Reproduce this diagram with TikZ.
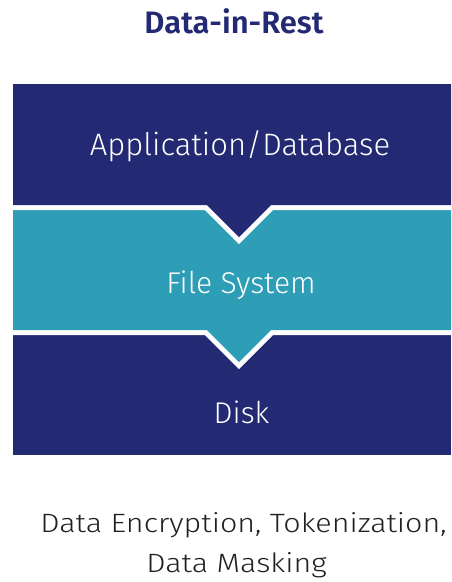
\documentclass[tikz,border=0pt]{standalone}
\usepackage{fontspec}
\setmainfont{Fira Sans}[UprightFont=* Light, BoldFont=* SemiBold]
\newfontfamily\widefont{Fira Sans}[UprightFont=* Light, FakeStretch=1.15]
\definecolor{navy}{HTML}{232A73}
\definecolor{teal}{HTML}{2E9DB6}
\definecolor{txt}{HTML}{231F20}
\tikzset{
  sep/.style={draw=white, line width=10pt, miter limit=10, line join=miter},
  blocklabel/.style={anchor=base, text=white, font=\fontsize{30}{36}\selectfont, inner sep=0pt},
  footlabel/.style={anchor=base, text=txt, font=\widefont\fontsize{26.5}{40}\selectfont, inner sep=0pt},
}
\begin{document}
\begin{tikzpicture}[x=1pt,y=-1pt]
\useasboundingbox (0,0) rectangle (451,582);
% bottom block
\fill[navy] (13,330) rectangle (451,455);
% teal block
\draw[sep] (13,330) -- (207,330) -- (239,362) -- (271,330) -- (451,330);
\fill[teal] (13,205) -- (451,205) -- (451,330) -- (271,330) -- (239,362) -- (207,330) -- (13,330) -- cycle;
% top block
\draw[sep] (13,205) -- (207,205) -- (239,237) -- (271,205) -- (451,205);
\fill[navy] (13,84) -- (451,84) -- (451,205) -- (271,205) -- (239,237) -- (207,205) -- (13,205) -- cycle;
% labels
\node[anchor=base, text=navy, font=\bfseries\fontsize{31}{36}\selectfont, inner sep=0pt] (title) at (234,33) {Data-in-Rest};
\node[blocklabel, font=\fontsize{31}{36}\selectfont] (app) at (240,155) {Application/Database};
\node[blocklabel] (fs) at (241,293) {File System};
\node[blocklabel] (disk) at (241.5,423) {Disk};
\node[footlabel] (foot) at (243.5,532) {Data Encryption, Tokenization,};
\node[footlabel] (foot2) at (236.5,572) {Data Masking};
\end{tikzpicture}
\end{document}
